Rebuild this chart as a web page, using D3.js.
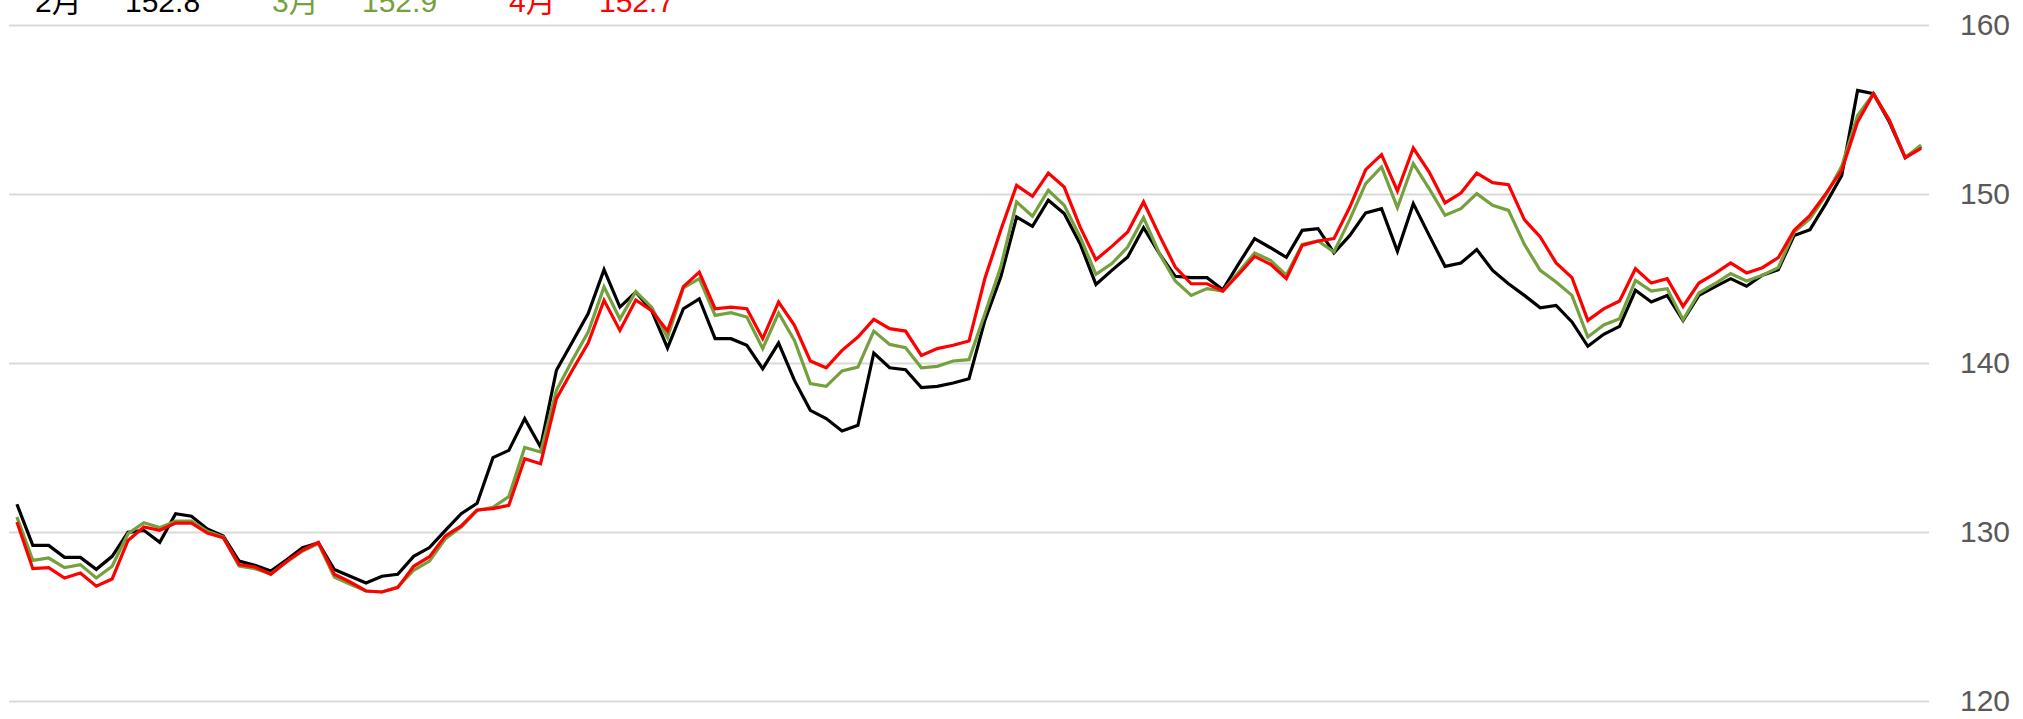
<!DOCTYPE html>
<html>
<head>
<meta charset="utf-8">
<script src="https://cdn.jsdelivr.net/npm/d3@7"></script>
<style>
  html, body { margin: 0; padding: 0; background: #fff; overflow: hidden; }
  svg { display: block; }
</style>
</head>
<body>
<svg id="chart" width="2023" height="719"></svg>
<script>
// ---- data ----
const seriesNames = ["2月", "3月", "4月"];
const seriesColors = ["#000000", "#75a03e", "#ff0000"];
const yTicks = [120, 130, 140, 150, 160];

const feb = [
  131.64,129.21,129.21,128.5,128.5,127.79,128.56,129.98,130.1,129.39,
  131.08,130.93,130.18,129.76,128.28,128.03,127.69,128.36,129.07,129.35,
  127.78,127.38,126.98,127.38,127.5,128.56,129.08,130.1,131.08,131.7,
  134.4,134.83,136.71,135.03,139.57,141.24,142.92,145.52,143.31,144.2,
  143.1,140.89,143.21,143.8,141.44,141.44,141.05,139.66,141.18,138.97,
  137.2,136.71,135.98,136.31,140.59,139.72,139.6,138.54,138.62,138.82,
  139.07,142.52,145.09,148.64,148.09,149.63,148.84,147.06,144.65,145.48,
  146.27,148.01,146.47,145.13,145.05,145.05,144.34,145.88,147.36,146.82,
  146.25,147.85,147.95,146.51,147.55,148.88,149.13,146.61,149.43,147.55,
  145.72,145.92,146.71,145.48,144.69,144.0,143.27,143.41,142.43,140.99,
  141.7,142.17,144.3,143.61,144.0,142.52,144.0,144.5,144.99,144.54,
  145.19,145.52,147.55,147.89,149.43,151.1,156.13,155.94,154.26,152.15,
  152.8
];
const mar = [
  130.89,128.32,128.46,127.89,128.07,127.28,127.97,129.9,130.55,130.26,
  130.65,130.65,130.04,129.7,127.99,127.83,127.53,128.22,128.88,129.31,
  127.34,126.91,126.51,126.45,126.75,127.73,128.28,129.6,130.3,131.28,
  131.46,132.09,135.0,134.73,138.38,140.16,141.83,144.5,142.6,144.22,
  143.3,141.5,144.45,144.99,142.82,142.98,142.72,140.85,142.96,141.34,
  138.78,138.62,139.53,139.76,141.89,141.1,140.9,139.72,139.8,140.12,
  140.2,142.92,145.68,149.53,148.68,150.22,149.33,147.46,145.25,145.88,
  146.86,148.6,146.47,144.85,144.0,144.4,144.26,145.38,146.51,146.07,
  145.19,147.02,147.22,146.57,148.5,150.61,151.6,149.19,151.8,150.32,
  148.74,149.13,150.02,149.33,149.03,147.02,145.48,144.79,144.0,141.54,
  142.25,142.62,144.89,144.26,144.4,142.56,144.14,144.69,145.29,144.85,
  145.19,145.64,147.75,148.54,149.92,151.64,154.65,155.94,154.36,152.15,
  152.9
];
const apr = [
  130.59,127.83,127.89,127.28,127.57,126.79,127.22,129.5,130.3,130.1,
  130.53,130.53,129.94,129.66,128.07,127.93,127.49,128.26,128.92,129.39,
  127.5,127.04,126.51,126.45,126.71,127.97,128.54,129.77,130.36,131.3,
  131.38,131.58,134.34,134.04,137.89,139.57,141.18,143.71,141.93,143.73,
  143.1,141.9,144.52,145.38,143.21,143.31,143.21,141.44,143.61,142.23,
  140.12,139.72,140.75,141.54,142.58,142.03,141.89,140.45,140.85,141.05,
  141.3,145.0,147.85,150.51,149.86,151.24,150.41,148.05,146.11,146.9,
  147.75,149.53,147.55,145.68,144.69,144.69,144.26,145.25,146.31,145.84,
  144.99,146.96,147.22,147.36,149.23,151.44,152.33,150.18,152.72,151.3,
  149.47,150.06,151.24,150.67,150.55,148.48,147.46,145.92,145.05,142.52,
  143.2,143.67,145.58,144.73,144.99,143.35,144.73,145.29,145.92,145.33,
  145.64,146.23,147.85,148.74,150.02,151.4,154.26,155.94,154.36,152.15,
  152.7
];
const legendValues = ["152.8", "152.9", "152.7"];

// ---- chart ----
const series = [feb, mar, apr];
const svg = d3.select("#chart");
const plotLeft = 9, plotRight = 1929;
const idx = d3.range(feb.length);

const x = d3.scalePoint().domain(idx).range([plotLeft, plotRight]).padding(0.5);
const y = d3.scaleLinear().domain([120, 160]).range([701, 25]);

const axis = d3.axisRight(y)
  .tickValues(yTicks)
  .tickSize(-(plotRight - plotLeft))
  .tickPadding(31)
  .tickFormat(d3.format("d"));

const gAxis = svg.append("g")
  .attr("transform", `translate(${plotRight},0)`)
  .call(axis);
gAxis.select(".domain").remove();
gAxis.selectAll(".tick line").attr("stroke", "#d9d9d9").attr("stroke-width", 2);
gAxis.selectAll(".tick text")
  .attr("fill", "#595959")
  .style("font-family", "'Liberation Sans', Arial, sans-serif")
  .style("font-size", "30px");

const line = d3.line()
  .x((d, i) => x(i))
  .y(d => y(d));

svg.append("g").selectAll("path")
  .data(series)
  .join("path")
  .attr("d", d => line(d))
  .attr("fill", "none")
  .attr("stroke", (d, i) => seriesColors[i])
  .attr("stroke-width", 3.2)
  .attr("stroke-linejoin", "miter");

// legend (partially above top edge, as in the reference)
const legend = svg.append("g")
  .style("font-family", "'Liberation Sans', 'Noto Sans CJK SC', Arial, sans-serif")
  .style("font-size", "30px");
const legendX = [35, 272, 509];
seriesNames.forEach((name, i) => {
  legend.append("text")
    .attr("x", legendX[i]).attr("y", 12)
    .attr("fill", seriesColors[i])
    .text(name);
  legend.append("text")
    .attr("x", legendX[i] + 90).attr("y", 12)
    .attr("fill", seriesColors[i])
    .text(legendValues[i]);
});
</script>
</body>
</html>
